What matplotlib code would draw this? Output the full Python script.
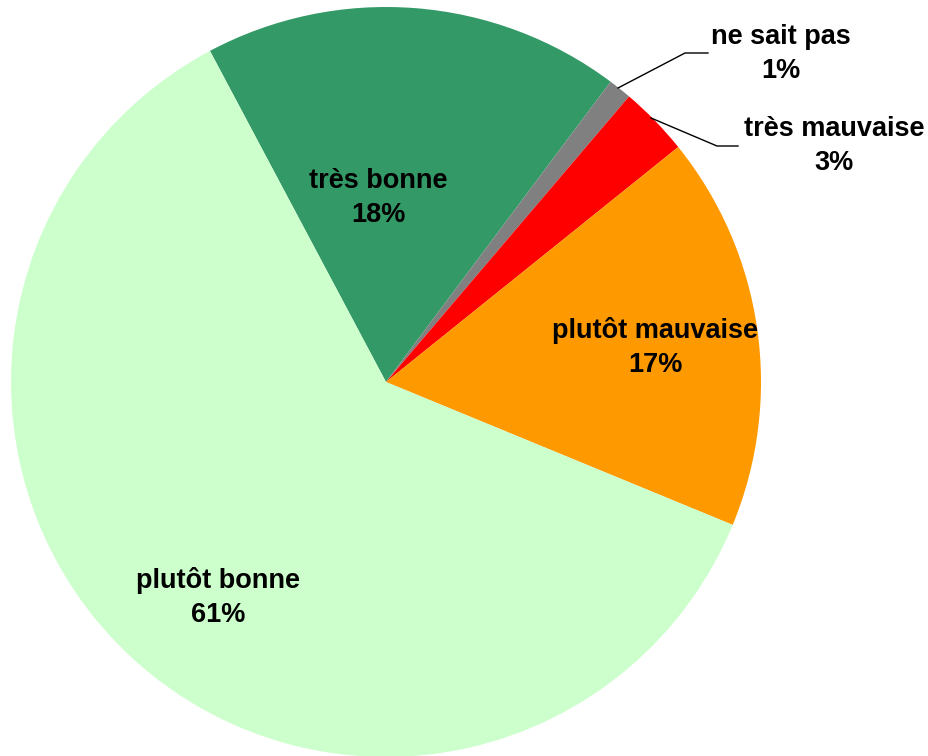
import matplotlib.pyplot as plt

# donnees
categories = ["très bonne", "ne sait pas", "très mauvaise", "plutôt mauvaise", "plutôt bonne"]
pourcentages = [18, 1, 3, 17, 61]
couleurs = ["#339966", "#808080", "#FF0000", "#FF9900", "#CCFFCC"]

W, H = 929, 756
fig = plt.figure(figsize=(W / 100, H / 100), dpi=100)
ax = fig.add_axes([0, 0, 1, 1])

cx, cy, r = 386, H - 382, 375
wedges, _ = ax.pie(pourcentages, colors=couleurs, startangle=118, counterclock=False,
                   center=(cx, cy), radius=r, frame=True,
                   wedgeprops=dict(linewidth=0))
ax.set_xlim(0, W)
ax.set_ylim(0, H)
ax.set_aspect("equal")
ax.axis("off")

police = dict(family=["Liberation Sans", "DejaVu Sans"], fontsize=19.5, fontweight="bold",
              ha="center", va="center", linespacing=1.4)

def etiquette(i):
    return categories[i] + "\n" + str(pourcentages[i]) + "%"

# etiquettes interieures
ax.text(378, H - 198, etiquette(0), **police)
ax.text(655, H - 348, etiquette(3), **police)
ax.text(218, H - 598, etiquette(4), **police)

# etiquettes exterieures avec lignes de rappel
ax.text(781, H - 54, etiquette(1), **police)
ax.plot([618, 685, 708], [H - 88, H - 53, H - 53], color="black", lw=1)
ax.text(834, H - 146, etiquette(2), **police)
ax.plot([651, 717, 738], [H - 118, H - 146, H - 146], color="black", lw=1)

fig.savefig("out.png", dpi=100)
